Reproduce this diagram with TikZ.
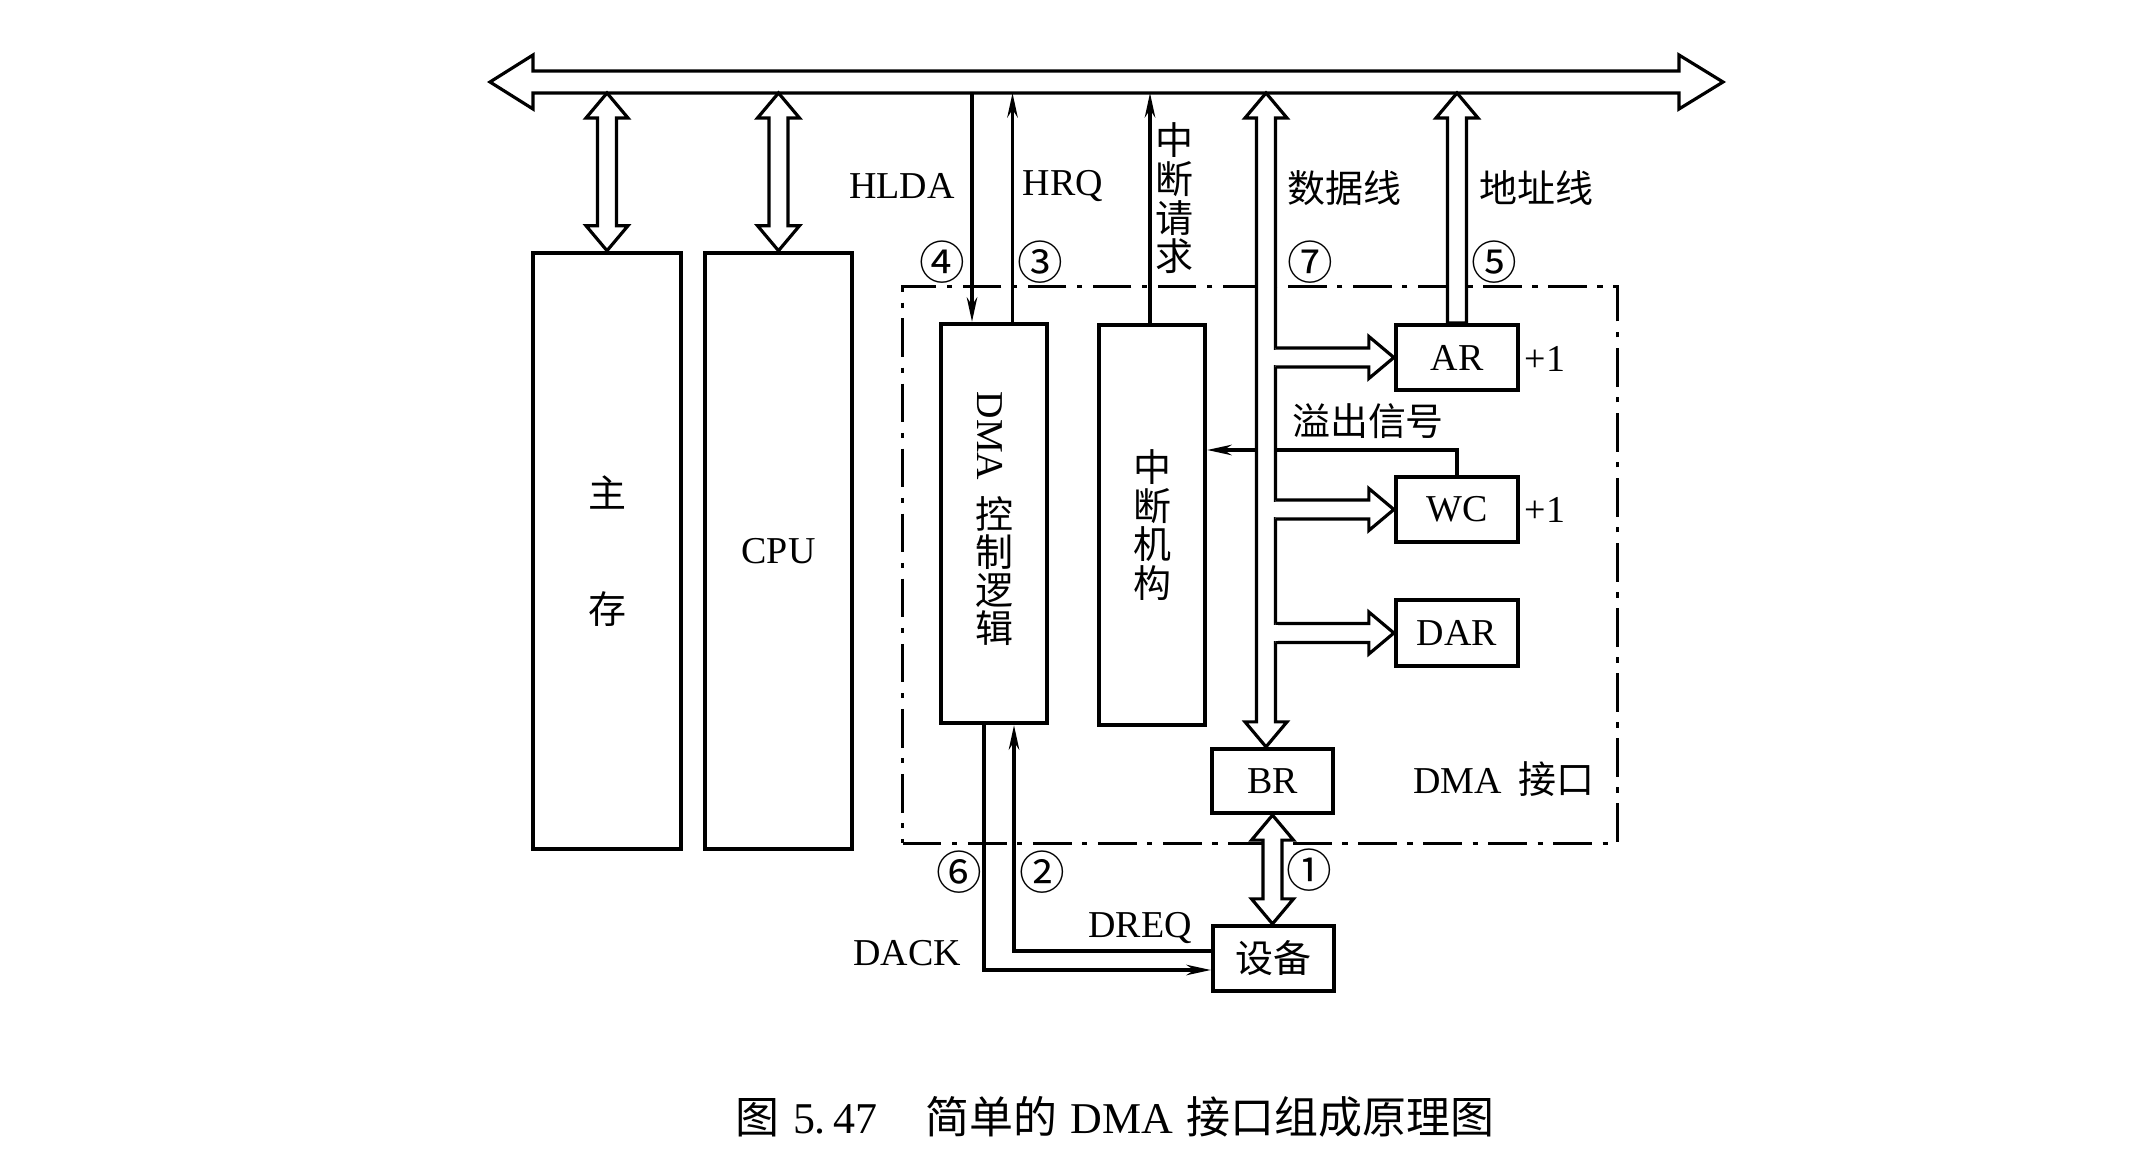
\documentclass[tikz,border=0pt]{standalone}
\usepackage{fontspec}
\setmainfont{Liberation Serif}
\newfontfamily\cjk{Noto Sans CJK SC}
\usetikzlibrary{arrows.meta,calc}
\newcommand\mf{\fontsize{10.8}{13}\selectfont}
\newcommand\arrSW{0.095cm}
\newcommand\arrHW{0.21cm}
\newcommand\arrHL{0.25cm}
% vertical hollow arrow, heads at both ends
\newcommand{\dblV}[2]{%
  \path[hollow] let \p1=(#1), \p2=(#2) in
   (\x1,\y1) -- (\x1+\arrHW,\y1-\arrHL) -- (\x1+\arrSW,\y1-\arrHL) -- (\x1+\arrSW,\y2+\arrHL)
   -- (\x1+\arrHW,\y2+\arrHL) -- (\x1,\y2) -- (\x1-\arrHW,\y2+\arrHL) -- (\x1-\arrSW,\y2+\arrHL)
   -- (\x1-\arrSW,\y1-\arrHL) -- (\x1-\arrHW,\y1-\arrHL) -- cycle;}
% vertical hollow arrow, head at top only
\newcommand{\upV}[2]{%
  \path[hollow] let \p1=(#1), \p2=(#2) in
   (\x1,\y1) -- (\x1+\arrHW,\y1-\arrHL) -- (\x1+\arrSW,\y1-\arrHL) -- (\x1+\arrSW,\y2)
   -- (\x1-\arrSW,\y2) -- (\x1-\arrSW,\y1-\arrHL) -- (\x1-\arrHW,\y1-\arrHL) -- cycle;}
% horizontal hollow branch from a vertical shaft to a box
\newcommand{\branchR}[2]{%
  \path[hollow] let \p1=(#1), \p2=(#2) in
   (\x1+\arrSW,\y2+\arrSW) -- (\x2-\arrHL,\y2+\arrSW) -- (\x2-\arrHL,\y2+\arrHW) -- (\x2,\y2)
   -- (\x2-\arrHL,\y2-\arrHW) -- (\x2-\arrHL,\y2-\arrSW) -- (\x1+\arrSW,\y2-\arrSW);
  \fill[white] let \p1=(#1), \p2=(#2) in
   (\x1+\arrSW-0.7pt,\y2-\arrSW+0.5pt) rectangle (\x1+\arrSW+0.7pt,\y2+\arrSW-0.5pt);}
\tikzset{
  box/.style={draw, line width=1.2pt, inner sep=0pt, align=center, font=\mf},
  lab/.style={inner sep=0pt, font=\mf},
  clab/.style={inner sep=0pt, font=\mf\cjk},
  circ/.style={inner sep=0pt, font=\fontsize{13}{13}\selectfont\cjk},
  conn/.style={line width=0.9pt},
  sig/.style={conn, -{Stealth[length=7pt,width=3pt]}},
  hollow/.style={draw, fill=white, line width=0.9pt, line join=miter},
  dashdot/.style={draw, line width=0.9pt, dash pattern=on 11pt off 3pt on 1.5pt off 3pt},
}
\begin{document}
\begin{tikzpicture}[x=0.01cm, y=-0.01cm]
\path[use as bounding box] (0,0) rectangle (2154,1152);

% DMA interface frame
\node[dashdot, minimum width=7.14cm, minimum height=5.56cm, inner sep=0pt] (iface) at (1260,565) {};

% main blocks
\node[box, minimum width=1.48cm, minimum height=5.96cm, font=\fontsize{10.8}{33}\selectfont\cjk] (mem) at (607,551) {主\\存};
\node[box, minimum width=1.47cm, minimum height=5.96cm] (cpu) at (778.5,551) {CPU};
\node[box, minimum width=1.06cm, minimum height=3.99cm] (dmactl) at (994,523.5) {};
\node[lab, rotate=-90] (dmatxt) at (990,436) {DMA};
\node[clab, align=center, font=\fontsize{10.8}{10.8}\selectfont\cjk] (ctltxt) at (994,571) {控\\制\\逻\\辑};
\node[box, minimum width=1.06cm, minimum height=3.99cm, font=\fontsize{10.8}{11}\selectfont\cjk] (intr) at (1152,525) {中\\断\\机\\构};
\node[box, minimum width=1.22cm, minimum height=0.65cm] (ar) at (1457,357.5) {AR};
\node[box, minimum width=1.22cm, minimum height=0.65cm] (wc) at (1457,509.5) {WC};
\node[box, minimum width=1.22cm, minimum height=0.66cm] (dar) at (1457,633) {DAR};
\node[box, minimum width=1.21cm, minimum height=0.64cm] (br) at (1272.5,781) {BR};
\node[box, minimum width=1.21cm, minimum height=0.65cm, font=\mf\cjk] (dev) at (1273.5,958.5) {设备};

% system bus
\coordinate (busbot) at (0,93);
\path[hollow] (533,71) -- (1679,71) -- (1679,55) -- (1723,82) -- (1679,109) -- (1679,93)
  -- (533,93) -- (533,109) -- (490,82) -- (533,55) -- cycle;

% bus <-> memory, CPU
\dblV{mem.north |- busbot}{mem.north}
\dblV{cpu.north |- busbot}{cpu.north}

% control signals
\coordinate (hldaX) at (972,0);
\coordinate (hrqX) at (1012.5,0);
\coordinate (irqX) at (1150,0);
\draw[sig] (hldaX |- busbot) -- (hldaX |- dmactl.north);
\draw[sig] (hrqX |- dmactl.north) -- (hrqX |- busbot);
\draw[sig] (irqX |- intr.north) -- (irqX |- busbot);

% overflow signal
\coordinate (ovf) at (1457,450);
\draw[sig] (wc.north) |- (intr.east |- ovf);

% DACK / DREQ
\coordinate (dack) at (984,970);
\coordinate (dreq) at (1014,951);
\draw[sig] (dack |- dmactl.south) -- (dack) -- (dack -| dev.west);
\draw[sig] (dreq -| dev.west) -- (dreq) -- (dreq |- dmactl.south);

% data lines
\coordinate (dataX) at (1266,0);
\dblV{dataX |- busbot}{dataX |- br.north}
\branchR{dataX}{ar.west}
\branchR{dataX}{wc.west}
\branchR{dataX}{dar.west}

% address lines
\upV{ar.north |- busbot}{ar.north}

% BR <-> device
\dblV{br.south}{dev.north}

% labels
\node[lab] (hlda) at (902,186) {HLDA};
\node[lab] (hrq) at (1063,186) {HRQ};
\node[clab, align=center, font=\fontsize{10.8}{11}\selectfont\cjk] (irqtxt) at (1174,198.5) {中\\断\\请\\求};
\node[circ] (c4) at (942,262) {④};
\node[circ] (c3) at (1040,262) {③};
\node[circ] (c7) at (1310,262) {⑦};
\node[circ] (c5) at (1494,262) {⑤};
\node[clab] (datatxt) at (1344,188) {数据线};
\node[clab] (addrtxt) at (1536,188) {地址线};
\node[clab] (ovftxt) at (1368,421) {溢出信号};
\node[lab] (ar1) at (1545,358.5) {+1};
\node[lab] (wc1) at (1545,509.5) {+1};
\node[lab] (ifacetxt) at (1504,779) {DMA\hspace{0.45em}{\cjk 接口}};
\node[circ] (c1) at (1309,870) {①};
\node[circ] (c6) at (959,872) {⑥};
\node[circ] (c2) at (1042,872) {②};
\node[lab] (dreqtxt) at (1140,928) {DREQ};
\node[lab] (dacktxt) at (907,953) {DACK};

% caption
\node[lab, font=\fontsize{12.5}{14}\selectfont] (cap) at (1115,1117)
  {{\cjk 图}\hspace{0.3em}5.\,47\hspace{1.1em}{\cjk 简单的}\hspace{0.3em}DMA\hspace{0.3em}{\cjk 接口组成原理图}};
\end{tikzpicture}
\end{document}
